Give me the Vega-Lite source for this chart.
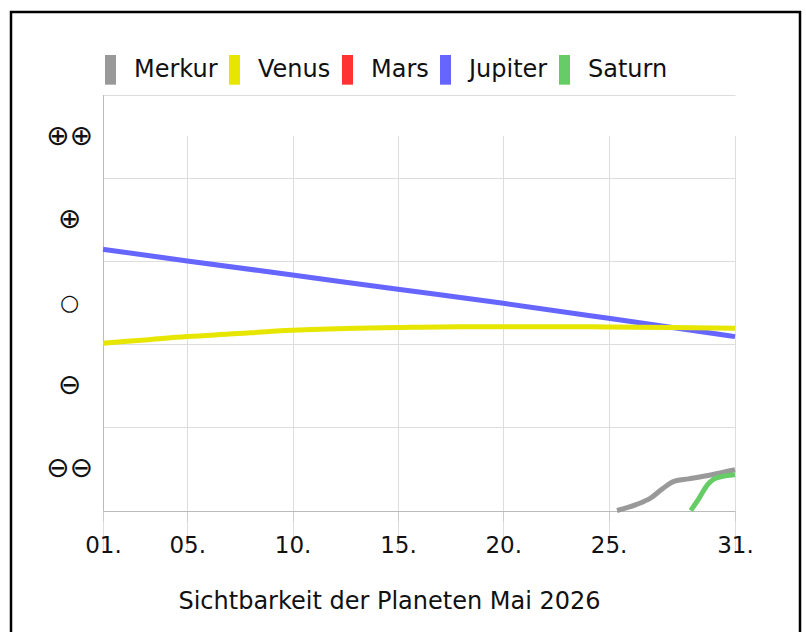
{
  "$schema": "https://vega.github.io/schema/vega-lite/v6.json",
  "autosize": {"type": "none"},
  "width": 789,
  "height": 622,
  "padding": {"top": 12, "left": 11, "right": 6, "bottom": -2},
  "background": "white",
  "config": {"view": {"stroke": "#000", "strokeWidth": 2.5}, "font": "DejaVu Sans"},
  "data": {"values": [
    {"planet": "Jupiter", "day": 1, "value": 3.14},
    {"planet": "Jupiter", "day": 5, "value": 3.0},
    {"planet": "Jupiter", "day": 10, "value": 2.83},
    {"planet": "Jupiter", "day": 15, "value": 2.66},
    {"planet": "Jupiter", "day": 20, "value": 2.49},
    {"planet": "Jupiter", "day": 25, "value": 2.31},
    {"planet": "Jupiter", "day": 31, "value": 2.09},
    {"planet": "Venus", "day": 1, "value": 2.01},
    {"planet": "Venus", "day": 3, "value": 2.05},
    {"planet": "Venus", "day": 5, "value": 2.09},
    {"planet": "Venus", "day": 7, "value": 2.12},
    {"planet": "Venus", "day": 10, "value": 2.165},
    {"planet": "Venus", "day": 13, "value": 2.19},
    {"planet": "Venus", "day": 15, "value": 2.2},
    {"planet": "Venus", "day": 18, "value": 2.21},
    {"planet": "Venus", "day": 20, "value": 2.21},
    {"planet": "Venus", "day": 23, "value": 2.21},
    {"planet": "Venus", "day": 25, "value": 2.205},
    {"planet": "Venus", "day": 28, "value": 2.2},
    {"planet": "Venus", "day": 31, "value": 2.19},
    {"planet": "Merkur", "day": 25.4, "value": 0},
    {"planet": "Merkur", "day": 26.3, "value": 0.07},
    {"planet": "Merkur", "day": 27.0, "value": 0.15},
    {"planet": "Merkur", "day": 27.55, "value": 0.26},
    {"planet": "Merkur", "day": 28.1, "value": 0.35},
    {"planet": "Merkur", "day": 28.8, "value": 0.38},
    {"planet": "Merkur", "day": 29.9, "value": 0.43},
    {"planet": "Merkur", "day": 31, "value": 0.49},
    {"planet": "Saturn", "day": 28.9, "value": 0},
    {"planet": "Saturn", "day": 29.3, "value": 0.15},
    {"planet": "Saturn", "day": 29.7, "value": 0.31},
    {"planet": "Saturn", "day": 30.1, "value": 0.39},
    {"planet": "Saturn", "day": 31, "value": 0.43}
  ]},
  "mark": {"type": "line", "strokeWidth": 5, "interpolate": "monotone"},
  "encoding": {
    "x": {
      "field": "day", "type": "quantitative",
      "scale": {"domain": [1, 31], "range": [92, 724], "nice": false, "zero": false},
      "axis": {
        "orient": "bottom", "offset": -123,
        "values": [1, 5, 10, 15, 20, 25, 31],
        "labelExpr": "(datum.value < 10 ? '0' : '') + datum.value + '.'",
        "grid": true, "gridColor": "#dddddd", "domainColor": "#bbbbbb", "tickColor": "#cccccc",
        "tickSize": 10, "labelFontSize": 23, "labelColor": "#111111", "labelPadding": 13,
        "labelFlush": false, "labelOverlap": false,
        "title": "Sichtbarkeit der Planeten Mai 2026",
        "titleFontSize": 24, "titleFontWeight": "normal", "titleColor": "#111111",
        "titleX": 378, "titleY": 97, "titleBaseline": "alphabetic", "titleAlign": "center"
      }
    },
    "y": {
      "field": "value", "type": "quantitative",
      "scale": {"domain": [0, 5], "range": [498.5, 82.5], "nice": false, "zero": false},
      "axis": {
        "orient": "left", "offset": -92,
        "values": [0, 1, 2, 3, 4, 5],
        "labelExpr": "datum.value == 0 ? '⊖⊖' : datum.value == 1 ? '⊖' : datum.value == 2 ? '○' : datum.value == 3 ? '⊕' : datum.value == 4 ? '⊕⊕' : ''",
        "labelOffset": -41.6, "ticks": false, "tickSize": 0,
        "labelAlign": "center", "labelBaseline": "middle", "labelPadding": 34,
        "labelFontSize": {"condition": {"test": "datum.value == 2", "value": 22}, "value": 28},
        "labelColor": "#111111",
        "grid": true, "gridColor": "#dddddd", "domainColor": "#bbbbbb",
        "title": null, "labelFlush": false, "labelOverlap": false
      }
    },
    "color": {
      "field": "planet", "type": "nominal",
      "scale": {"domain": ["Merkur", "Venus", "Mars", "Jupiter", "Saturn"], "range": ["#999999", "#e6e600", "#ff3333", "#6666ff", "#66cc66"]},
      "legend": {
        "orient": "none", "legendX": 83, "legendY": 41, "direction": "horizontal", "title": null,
        "symbolType": "M0,-1.35V1.35", "symbolSize": 484, "symbolStrokeWidth": 11,
        "labelFontSize": 24, "labelOffset": 7, "columnPadding": -6, "labelColor": "#111111"
      }
    }
  }
}
